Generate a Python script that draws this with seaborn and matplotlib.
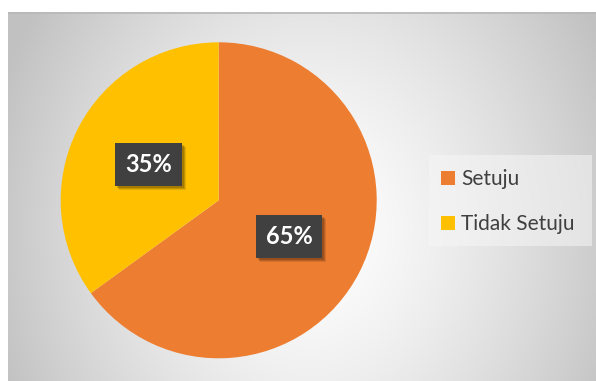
import numpy as np
import matplotlib
matplotlib.use("Agg")
import matplotlib.pyplot as plt
from matplotlib.patches import Patch, Rectangle
from matplotlib.transforms import IdentityTransform
import seaborn as sns

categories = ["Setuju", "Tidak Setuju"]
values = [65, 35]
colors = ["#ED7D31", "#FFC000"]

sns.set_theme(style="white")
plt.rcParams['font.family'] = ['Lato', 'DejaVu Sans']

W, H = 596, 381
fig = plt.figure(figsize=(W / 100, H / 100), dpi=100)
fig.patch.set_facecolor("white")

# background gradient panel
x0, y0 = 8, 12
bg = fig.add_axes([x0 / W, 0, 1 - x0 / W, 1 - y0 / H])
bw, bh = W - x0, H - y0
xx, yy = np.meshgrid(np.arange(bw) + x0, np.arange(bh) + y0)
r = np.sqrt(((xx - 310) / 300.0) ** 2 + ((yy - 230) / 360.0) ** 2)
g = 1 - 0.21 * np.clip(r, 0, 1.1) ** 1.4
img = np.dstack([g, g, g])
bg.imshow(img, aspect="auto", extent=(0, bw, bh, 0), origin="upper")
bg.set_xlim(0, bw)
bg.set_ylim(bh, 0)
bg.plot([0, bw], [0.6, 0.6], color="#B8B8B8", lw=1.2)
# legend backdrop
bg.add_patch(Rectangle((429 - x0, 155 - y0), 163, 91, facecolor="#F6F6F6",
                       edgecolor="none", alpha=0.55))
bg.set_axis_off()

# pie axes
cx, cy, R = 218.7, H - 200.3, 158.0
half = 162.0
ax = fig.add_axes([(cx - half) / W, (cy - half) / H, 2 * half / W, 2 * half / H])
ax.set_axis_off()
wedges, texts = ax.pie(values, colors=colors, startangle=90, counterclock=False,
                       radius=1.0, wedgeprops=dict(linewidth=0))
ax.set_xlim(-half / R, half / R)
ax.set_ylim(-half / R, half / R)

# labels
total = sum(values)
ang = 90.0
label_texts = []
for v in values:
    span = 360.0 * v / total
    mid = np.deg2rad(ang - span / 2)
    ang -= span
    px, py = 0.5 * np.cos(mid), 0.5 * np.sin(mid)
    lab = f"{round(100 * v / total)}%"
    t = ax.text(px, py, lab, ha="center", va="center", fontsize=17,
                fontweight="bold", color="white", zorder=4,
                bbox=dict(boxstyle="square,pad=0.42", fc="#404040", ec="none"))
    label_texts.append(t)

fig.canvas.draw()
renderer = fig.canvas.get_renderer()
for t in label_texts:
    bb = t.get_bbox_patch().get_window_extent(renderer)
    for k, a in [(4, 0.10), (3, 0.14), (2, 0.16)]:
        ax.add_patch(Rectangle((bb.x0 + k, bb.y0 - k), bb.width, bb.height,
                               transform=IdentityTransform(), facecolor="black",
                               alpha=a, edgecolor="none", zorder=3))

handles = [Patch(facecolor=c, edgecolor="none", label=l) for c, l in zip(colors, categories)]
leg = fig.legend(handles=handles, loc="upper left",
                 bbox_to_anchor=(441 / W, 1 - 169 / H), frameon=False,
                 fontsize=15, labelcolor="#404040", handlelength=0.67,
                 handleheight=0.67, handletextpad=0.3, labelspacing=1.22,
                 borderpad=0, borderaxespad=0)

fig.savefig("out.png", dpi=100, facecolor="white")
